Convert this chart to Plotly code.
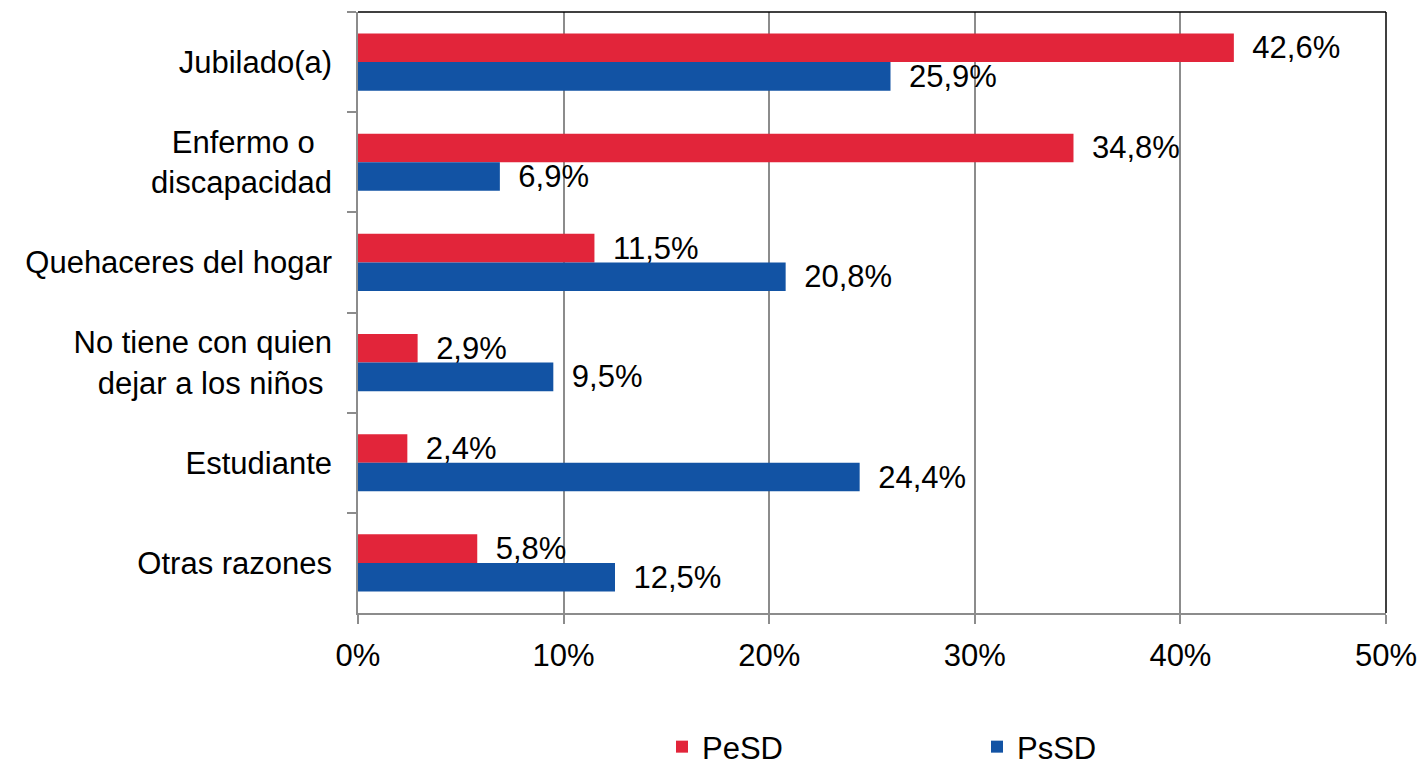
import plotly.graph_objects as go

categories = ["Jubilado(a)", "Enfermo o\u00a0\u00a0<br>discapacidad", "Quehaceres del hogar",
              "No tiene con quien<br>dejar a los niños\u00a0", "Estudiante", "Otras razones"]
pesd = [42.6, 34.8, 11.5, 2.9, 2.4, 5.8]
pssd = [25.9, 6.9, 20.8, 9.5, 24.4, 12.5]
series_names = ["PeSD", "PsSD"]
colors = ["#E2253A", "#1253A4"]
xticks = [0, 10, 20, 30, 40, 50]
xticklabels = ["0%", "10%", "20%", "30%", "40%", "50%"]

FONT = "Liberation Sans, Arial, sans-serif"
fig = go.Figure()
for name, vals, col in zip(series_names, [pesd, pssd], colors):
    fig.add_trace(go.Bar(
        y=categories, x=vals, name=name, orientation="h",
        marker=dict(color=col, line=dict(width=0)),
        text=vals, texttemplate="\u2002%{x:.1f}%", textposition="outside",
        textfont=dict(size=31, color="black", family=FONT),
        constraintext="none", cliponaxis=False,
    ))

W, H = 1420, 762
fig.update_layout(
    width=W, height=H,
    margin=dict(l=358, r=34, t=12, b=149, autoexpand=False),
    barmode="group", bargap=0.43, bargroupgap=0,
    separators=",.",
    paper_bgcolor="white", plot_bgcolor="white",
    font=dict(family=FONT, size=31, color="black"),
    showlegend=True,
    legend=dict(orientation="h", xref="container", yref="container",
                x=662 / W, xanchor="left", y=1 - 747 / H, yanchor="middle",
                font=dict(size=31), entrywidth=270, itemwidth=30, traceorder="normal"),
    xaxis=dict(range=[0, 50], tickvals=xticks, ticktext=xticklabels, showgrid=True,
               gridcolor="#8C8C8C", gridwidth=1.5, showline=True, linecolor="#8C8C8C",
               linewidth=1.5, ticks="outside", ticklen=9, tickcolor="#8C8C8C",
               tickwidth=1.5, zeroline=False, ticklabelstandoff=5),
    yaxis=dict(autorange="reversed", showline=True, linecolor="#8C8C8C", linewidth=1.5,
               ticks="outside", ticklen=9, tickcolor="#8C8C8C", tickwidth=1.5,
               tickson="boundaries", showgrid=False, ticklabelstandoff=18),
    shapes=[
        dict(type="line", xref="paper", yref="paper", x0=0, x1=1, y0=1, y1=1,
             line=dict(color="black", width=1.5)),
        dict(type="line", xref="paper", yref="paper", x0=1, x1=1, y0=0, y1=1,
             line=dict(color="black", width=1.5)),
    ],
)

fig.write_html(
    "out.html",
    config={"displayModeBar": False},
    post_script="document.body.style.margin='0';document.body.style.overflow='hidden';",
)
